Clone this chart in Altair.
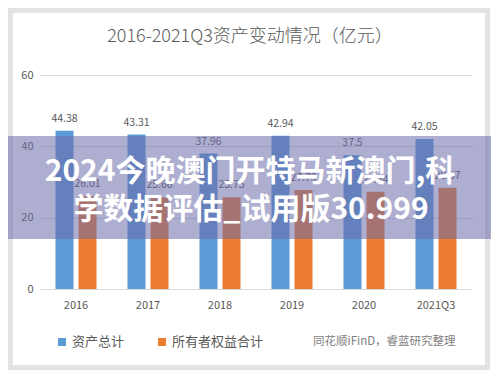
import altair as alt
import pandas as pd

years = ["2016", "2017", "2018", "2019", "2020", "2021Q3"]
assets = [44.38, 43.31, 37.96, 42.94, 37.5, 42.05]
equity = [26.01, 25.66, 25.75, 27.73, 27.24, 28.37]
series_names = ["资产总计", "所有者权益合计"]
series_colors = ["#5B9BD5", "#ED7D31"]
title_text = "2016-2021Q3资产变动情况（亿元）"
source_text = "同花顺iFinD，睿蓝研究整理"
watermark_lines = ["2024今晚澳门开特马新澳门,科", "学数据评估_试用版30.999"]
y_ticks = [0, 10, 20, 30, 40, 50, 60]

FONT = "Noto Sans CJK SC"

rows = []
for y, a, e in zip(years, assets, equity):
    rows.append({"year": y, "series": series_names[0], "value": a, "label": f"{a:g}"})
    rows.append({"year": y, "series": series_names[1], "value": e, "label": f"{e:g}"})
df = pd.DataFrame(rows)
one = pd.DataFrame({"k": [0]})

x_enc = alt.X("year:N", sort=years, scale=alt.Scale(paddingInner=0, paddingOuter=0),
              axis=alt.Axis(title=None, labelAngle=0, domain=False, ticks=False,
                            labelPadding=10, labelFontSize=11, labelColor="#595959",
                            labelFont=FONT, grid=False))
xo_enc = alt.XOffset("series:N", sort=series_names,
                     scale=alt.Scale(paddingInner=0.217, paddingOuter=0.674))
y_enc = alt.Y("value:Q", scale=alt.Scale(domain=[0, 60]),
              axis=alt.Axis(title=None, values=y_ticks, grid=True, gridColor="#d9d9d9",
                            domain=False, ticks=False, labelPadding=7, labelFontSize=11,
                            labelColor="#595959", labelFont=FONT))
color_enc = alt.Color("series:N", scale=alt.Scale(domain=series_names, range=series_colors),
                      legend=None)

frame = alt.Chart(one).mark_rect(fill=None, stroke="#e3e3e3", strokeWidth=5).encode(
    x=alt.value(-29.5), x2=alt.value(447.5), y=alt.value(-64.5), y2=alt.value(292.5))

bars = alt.Chart(df).mark_bar().encode(x=x_enc, xOffset=xo_enc, y=y_enc, color=color_enc)

labels = alt.Chart(df).mark_text(baseline="bottom", dy=-7, fontSize=10.5, color="#595959",
                                 font=FONT).encode(
    x=alt.X("year:N", sort=years), xOffset=alt.XOffset("series:N", sort=series_names),
    y="value:Q", text="label:N")

title = alt.Chart(one).mark_text(text=title_text, fontSize=18, color="#595959", font=FONT,
                                 fontWeight=300, baseline="middle", align="center").encode(
    x=alt.value(210), y=alt.value(-38))

leg_sq1 = alt.Chart(one).mark_square(size=64, color=series_colors[0], opacity=1).encode(
    x=alt.value(22), y=alt.value(267))
leg_tx1 = alt.Chart(one).mark_text(text=series_names[0], fontSize=13, color="#595959",
                                   font=FONT, align="left", baseline="middle").encode(
    x=alt.value(32), y=alt.value(267))
leg_sq2 = alt.Chart(one).mark_square(size=64, color=series_colors[1], opacity=1).encode(
    x=alt.value(122), y=alt.value(267))
leg_tx2 = alt.Chart(one).mark_text(text=series_names[1], fontSize=13, color="#595959",
                                   font=FONT, align="left", baseline="middle").encode(
    x=alt.value(132), y=alt.value(267))
src = alt.Chart(one).mark_text(text=source_text, fontSize=11.5, color="#808080",
                               font=FONT, align="left", baseline="middle").encode(
    x=alt.value(273), y=alt.value(267))

band = alt.Chart(one).mark_rect(color="#6b6baa", opacity=0.55).encode(
    x=alt.value(-40), x2=alt.value(460), y=alt.value(61), y2=alt.value(164))

wm1 = alt.Chart(one).mark_text(text=watermark_lines[0], fontSize=30, fontWeight="bold",
                               color="white", font=FONT, align="center",
                               baseline="middle").encode(x=alt.value(210), y=alt.value(97))
wm2 = alt.Chart(one).mark_text(text=watermark_lines[1], fontSize=30, fontWeight="bold",
                               color="white", font=FONT, align="center",
                               baseline="middle").encode(x=alt.value(211), y=alt.value(135))

chart = alt.layer(frame, bars, labels, title, leg_sq1, leg_tx1, leg_sq2, leg_tx2, src,
                  band, wm1, wm2).properties(
    width=432, height=214,
    padding={"left": 32, "top": 67, "right": 19, "bottom": 82},
    autosize=alt.AutoSizeParams(type="none"),
    background="white",
).configure_view(stroke=None)

chart.save("out.html", embed_options={"renderer": "svg", "actions": False})
